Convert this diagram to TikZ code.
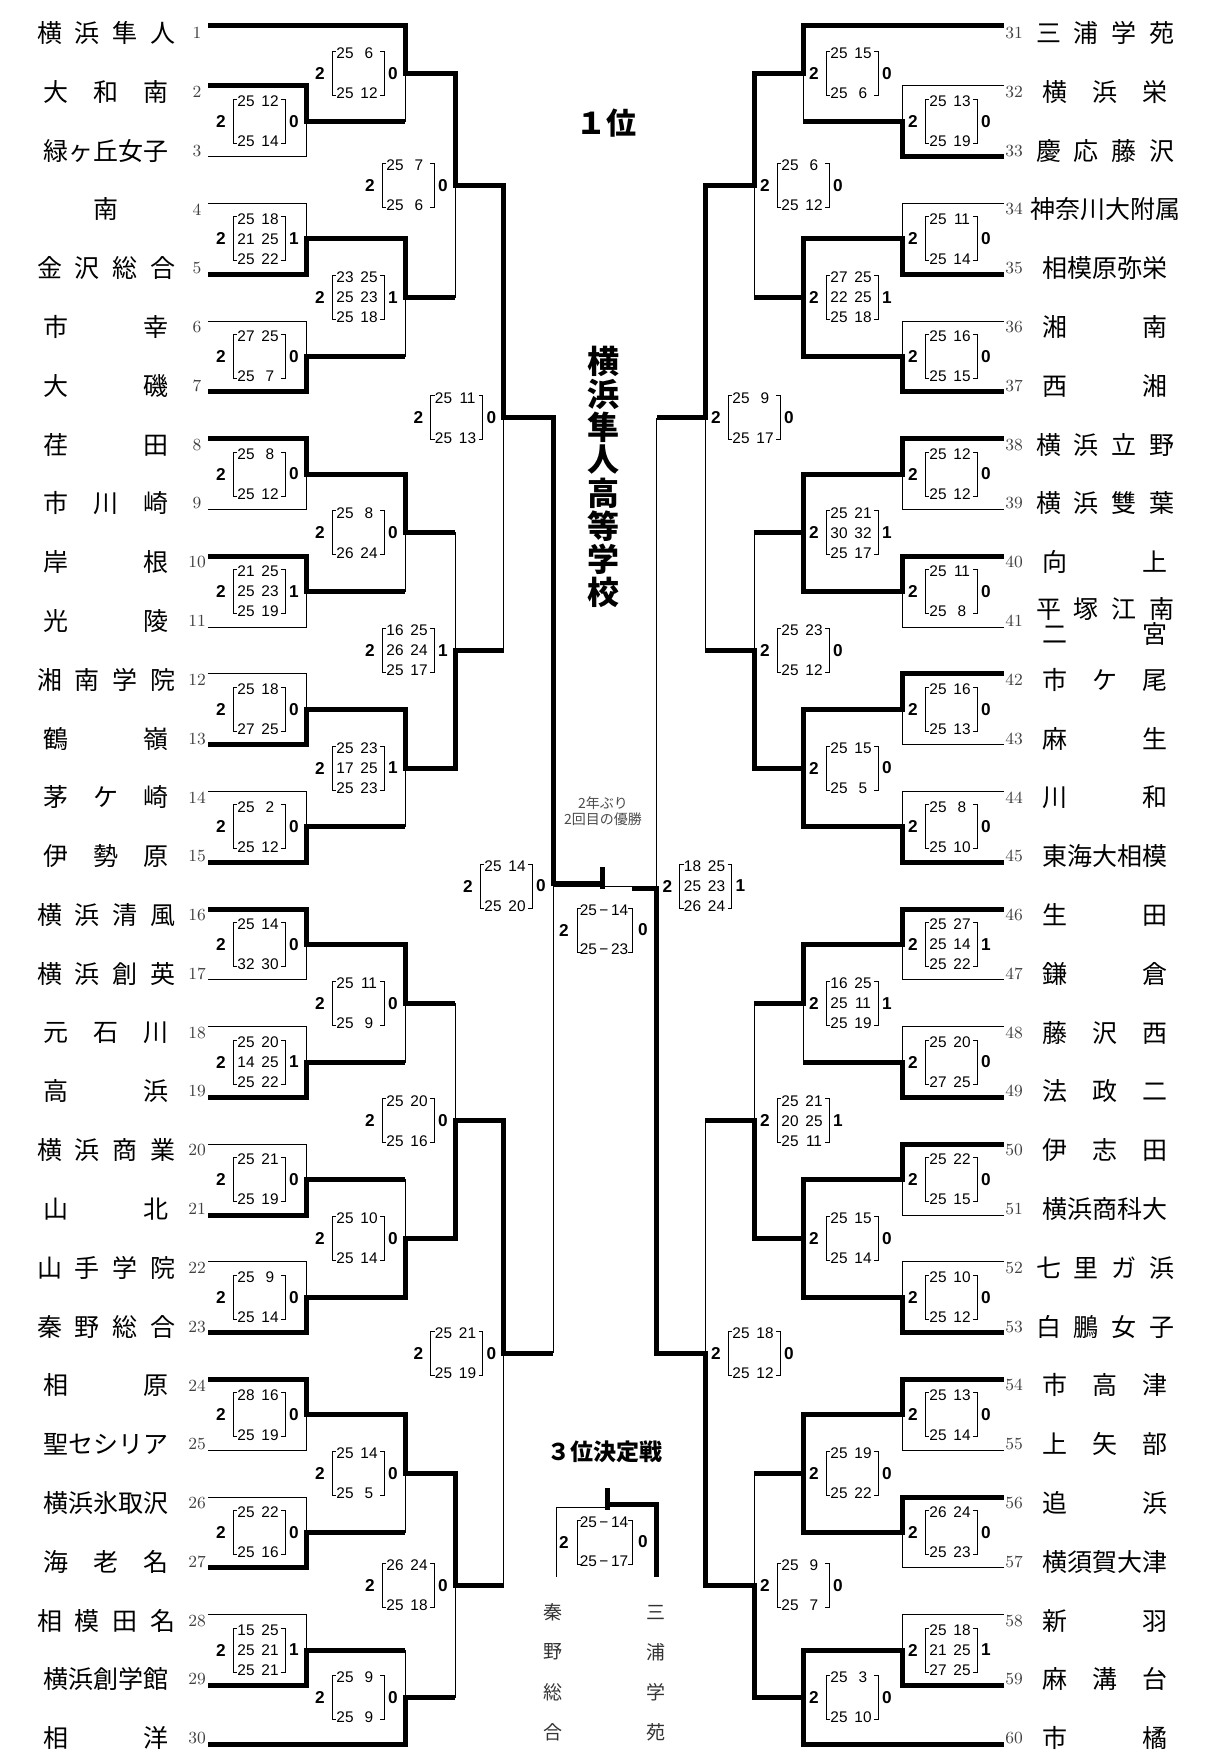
\documentclass[tikz,border=0pt]{standalone}
\usepackage{fontspec}
\newfontfamily\jp{Noto Sans CJK JP}
\newfontfamily\sans{Liberation Sans}
\usetikzlibrary{calc}

\tikzset{
  won/.style={line width=2.5pt},
  lost/.style={line width=0.5pt},
  brk/.style={line width=0.45pt},
  team/.style={inner sep=0pt, font=\jp\fontsize{12.5}{14}\selectfont},
  seed/.style={inner sep=0pt, text=black!75, font=\fontsize{8.5}{10}\selectfont},
  cnt/.style={inner sep=0pt, font=\sans\bfseries\fontsize{8.6}{10}\selectfont},
  pts/.style={inner sep=0pt, font=\sans\fontsize{7.7}{9}\selectfont},
  head/.style={inner sep=0pt, font=\jp\bfseries\fontsize{15}{18}\selectfont},
  champ/.style={inner sep=0pt, font=\jp\bfseries\fontsize{16}{18}\selectfont},
  note/.style={inner sep=0pt, text=black!70, font=\jp\fontsize{7}{8}\selectfont},
  third/.style={inner sep=0pt, text=black!80, font=\jp\fontsize{9.5}{11}\selectfont},
}

% one match: upper entrant, lower entrant, name, next column, upper style, lower style
\newcommand\bout[6]{%
  \coordinate (#3v) at ($(#1)!.5!(#2)$);
  \draw[#5,line cap=rect] (#1) -- (#3v);
  \draw[#6,line cap=rect] (#2) -- (#3v);
  \coordinate (#3) at (#3v -| #4);
  \draw[won] (#3v) -- (#3);
}
% set scores beside a match: centre, shift, sets lost, rows
\newcommand\score[4]{%
  \node[cnt] (#1a) at ($(#1)+(#2-85,0)$) {2};
  \node[cnt] (#1b) at ($(#1)+(#2-12,0)$) {#3};
  \draw[brk] ($(#1)+(#2-69,-22)$) -- ++(-4,0) -- ++(0,44) -- ++(4,0);
  \draw[brk] ($(#1)+(#2-25,-22)$) -- ++(4,0) -- ++(0,44) -- ++(-4,0);
  \foreach \sa/\sb [count=\k] in {#4}{
    \node[pts] (#1p\k) at ($(#1)+(#2-60,{-20+(\k-1)*40/(#3+1)})$) {\sa};
    \node[pts] (#1q\k) at ($(#1)+(#2-36,{-20+(\k-1)*40/(#3+1)})$) {\sb};
  }
}
% scores of the final and the third place match
\newcommand\dscore[4]{%
  \node[cnt] (#1a) at ($(#1)+(-40,0)$) {2};
  \node[cnt] (#1b) at ($(#1)+(39,0)$) {#2};
  \draw[brk] ($(#1)+(-23,-22)$) -- ++(-4,0) -- ++(0,44) -- ++(4,0);
  \draw[brk] ($(#1)+(24,-22)$) -- ++(4,0) -- ++(0,44) -- ++(-4,0);
  \node[pts] (#1p) at ($(#1)+(0,-19.5)$) {#3};
  \node[pts] (#1q) at ($(#1)+(0,19.5)$) {#4};
}

\begin{document}
\begin{tikzpicture}[x=0.5pt,y=-0.5pt]
\fill[white] (0,0) rectangle (1208,1761);
\useasboundingbox (0,0) rectangle (1208,1761);

% columns
\coordinate (cL2) at (405,0);  \coordinate (cL3) at (455,0);
\coordinate (cL4) at (503.5,0); \coordinate (cL5) at (553,0);
\coordinate (cR2) at (803,0);  \coordinate (cR3) at (754,0);
\coordinate (cR4) at (705,0);  \coordinate (cR5) at (656.5,0);

% left teams
\foreach \w/\nm [count=\i] in {69/横 浜 隼 人,
  62.5/大 和 南,
  62.5/緑ヶ丘女子,
  62.5/\hfill 南\hfill,
  69/金 沢 総 合,
  62.5/市 幸,
  62.5/大 磯,
  62.5/荏 田,
  62.5/市 川 崎,
  62.5/岸 根,
  62.5/光 陵,
  69/湘 南 学 院,
  62.5/鶴 嶺,
  62.5/茅 ケ 崎,
  62.5/伊 勢 原,
  69/横 浜 清 風,
  69/横 浜 創 英,
  62.5/元 石 川,
  62.5/高 浜,
  69/横 浜 商 業,
  62.5/山 北,
  69/山 手 学 院,
  69/秦 野 総 合,
  62.5/相 原,
  62.5/聖セシリア,
  62.5/横浜氷取沢,
  62.5/海 老 名,
  69/相 模 田 名,
  62.5/横浜創学館,
  62.5/相 洋}{
  \node[seed] (n\i) at (197,{33+58.8*(\i-1)}) {\i};
  \node[team] (s\i) at (106,{33+58.8*(\i-1)}) {\makebox[\w pt][s]{\nm}};
}

% right teams
\foreach \w/\nm [count=\i from 31] in {69/三 浦 学 苑,
  62.5/横 浜 栄,
  69/慶 応 藤 沢,
  75/神奈川大附属,
  62.5/相模原弥栄,
  62.5/湘 南,
  62.5/西 湘,
  69/横 浜 立 野,
  69/横 浜 雙 葉,
  62.5/向 上,
  69/平 塚 江 南,
  62.5/市 ケ 尾,
  62.5/麻 生,
  62.5/川 和,
  62.5/東海大相模,
  62.5/生 田,
  62.5/鎌 倉,
  62.5/藤 沢 西,
  62.5/法 政 二,
  62.5/伊 志 田,
  62.5/横浜商科大,
  69/七 里 ガ 浜,
  69/白 鵬 女 子,
  62.5/市 高 津,
  62.5/上 矢 部,
  62.5/追 浜,
  62.5/横須賀大津,
  62.5/新 羽,
  62.5/麻 溝 台,
  62.5/市 橘}{
  \node[seed] (n\i) at (1014,{33+58.8*(\i-31)}) {\i};
  \ifnum\i=41\relax\else
    \node[team] (s\i) at (1105,{33+58.8*(\i-31)}) {\makebox[\w pt][s]{\nm}};
  \fi
}
\node[team] (s41) at (1105,608.5) {\makebox[69pt][s]{平 塚 江 南}};
\node[team] (s41b) at (1105,633.5) {\makebox[62.5pt][s]{二 宮}};

% team lines
\foreach \i/\st in {2/won,3/lost,4/lost,5/won,6/lost,7/won,8/won,9/lost,10/won,11/lost,
  12/lost,13/won,14/lost,15/won,16/won,17/lost,18/lost,19/won,20/lost,21/won,22/lost,
  23/won,24/won,25/lost,26/lost,27/won,28/lost,29/won}{
  \pgfmathsetmacro\yy{33+58.8*(\i-1)+(isodd(\i)?6:-6)}
  \coordinate (e\i) at (208,\yy);
  \coordinate (t\i) at (306,\yy);
  \draw[\st] (e\i) -- (t\i);
}
\foreach \i/\st in {32/lost,33/won,34/lost,35/won,36/lost,37/won,38/won,39/lost,40/won,
  41/lost,42/won,43/lost,44/lost,45/won,46/won,47/lost,48/lost,49/won,50/won,51/lost,
  52/lost,53/won,54/won,55/lost,56/won,57/lost,58/lost,59/won}{
  \pgfmathsetmacro\yy{33+58.8*(\i-31)+(isodd(\i)?6:-6)}
  \coordinate (e\i) at (1004,\yy);
  \coordinate (t\i) at (902,\yy);
  \draw[\st] (e\i) -- (t\i);
}
\coordinate (e1) at (208,25);      \coordinate (t1) at (405,25);
\coordinate (e30) at (208,1744.2); \coordinate (t30) at (405,1744.2);
\coordinate (e31) at (1004,25);    \coordinate (t31) at (803,25);
\coordinate (e60) at (1004,1744.2);\coordinate (t60) at (803,1744.2);
\draw[won] (e1) -- (t1);
\draw[won] (e30) -- (t30);
\draw[won] (e31) -- (t31);
\draw[won] (e60) -- (t60);

% left half
\bout{t2}{t3}{w23}{cL2}{won}{lost}
\bout{t4}{t5}{w45}{cL2}{lost}{won}
\bout{t6}{t7}{w67}{cL2}{lost}{won}
\bout{t8}{t9}{w89}{cL2}{won}{lost}
\bout{t10}{t11}{w1011}{cL2}{won}{lost}
\bout{t12}{t13}{w1213}{cL2}{lost}{won}
\bout{t14}{t15}{w1415}{cL2}{lost}{won}
\bout{t16}{t17}{w1617}{cL2}{won}{lost}
\bout{t18}{t19}{w1819}{cL2}{lost}{won}
\bout{t20}{t21}{w2021}{cL2}{lost}{won}
\bout{t22}{t23}{w2223}{cL2}{lost}{won}
\bout{t24}{t25}{w2425}{cL2}{won}{lost}
\bout{t26}{t27}{w2627}{cL2}{lost}{won}
\bout{t28}{t29}{w2829}{cL2}{lost}{won}
\bout{t1}{w23}{w13}{cL3}{won}{lost}
\bout{w45}{w67}{w47}{cL3}{won}{lost}
\bout{w89}{w1011}{w811}{cL3}{won}{lost}
\bout{w1213}{w1415}{w1215}{cL3}{won}{lost}
\bout{w1617}{w1819}{w1619}{cL3}{won}{lost}
\bout{w2021}{w2223}{w2023}{cL3}{lost}{won}
\bout{w2425}{w2627}{w2427}{cL3}{won}{lost}
\bout{w2829}{t30}{w2830}{cL3}{lost}{won}
\bout{w13}{w47}{w17}{cL4}{won}{lost}
\bout{w811}{w1215}{w815}{cL4}{lost}{won}
\bout{w1619}{w2023}{w1623}{cL4}{lost}{won}
\bout{w2427}{w2830}{w2430}{cL4}{won}{lost}
\bout{w17}{w815}{w115}{cL5}{won}{lost}
\bout{w1623}{w2430}{w1630}{cL5}{won}{lost}

% right half
\bout{t32}{t33}{w3233}{cR2}{lost}{won}
\bout{t34}{t35}{w3435}{cR2}{lost}{won}
\bout{t36}{t37}{w3637}{cR2}{lost}{won}
\bout{t38}{t39}{w3839}{cR2}{won}{lost}
\bout{t40}{t41}{w4041}{cR2}{won}{lost}
\bout{t42}{t43}{w4243}{cR2}{won}{lost}
\bout{t44}{t45}{w4445}{cR2}{lost}{won}
\bout{t46}{t47}{w4647}{cR2}{won}{lost}
\bout{t48}{t49}{w4849}{cR2}{lost}{won}
\bout{t50}{t51}{w5051}{cR2}{won}{lost}
\bout{t52}{t53}{w5253}{cR2}{lost}{won}
\bout{t54}{t55}{w5455}{cR2}{won}{lost}
\bout{t56}{t57}{w5657}{cR2}{won}{lost}
\bout{t58}{t59}{w5859}{cR2}{lost}{won}
\bout{t31}{w3233}{w3133}{cR3}{won}{lost}
\bout{w3435}{w3637}{w3437}{cR3}{won}{won}
\bout{w3839}{w4041}{w3841}{cR3}{won}{won}
\bout{w4243}{w4445}{w4245}{cR3}{won}{won}
\bout{w4647}{w4849}{w4649}{cR3}{won}{lost}
\bout{w5051}{w5253}{w5053}{cR3}{won}{won}
\bout{w5455}{w5657}{w5457}{cR3}{won}{won}
\bout{w5859}{t60}{w5860}{cR3}{won}{won}
\bout{w3133}{w3437}{w3137}{cR4}{won}{lost}
\bout{w3841}{w4245}{w3845}{cR4}{lost}{won}
\bout{w4649}{w5053}{w4653}{cR4}{lost}{won}
\bout{w5457}{w5860}{w5460}{cR4}{lost}{won}
\bout{w3137}{w3845}{w3145}{cR5}{won}{lost}
\bout{w4653}{w5460}{w4660}{cR5}{lost}{won}

% semifinals and final
\coordinate (sLv) at (553,886);     \coordinate (sRv) at (656.5,886);
\coordinate (fL) at (553,883.5);    \coordinate (fC) at (602,883.5);
\coordinate (fB) at (602,886);      \coordinate (fT) at (602,869.5);
\coordinate (fR) at (634.5,888.5);  \coordinate (fS) at (656.5,888.5);
\draw[won,line cap=rect] (w115) -- (fL) -- (fC);
\draw[won,line cap=rect] (fB) -- (fT);
\draw[lost] (sLv) -- (sRv);
\draw[lost] (sLv) -- (w1630);
\draw[lost] (w3145) -- (sRv);
\draw[won,line cap=rect] (fR) -- (fS) -- (w4660);

% third place match
\coordinate (qL) at (556,1577);    \coordinate (qLt) at (556,1507);
\coordinate (qC) at (607,1507);    \coordinate (qT) at (607,1490.5);
\coordinate (qCt) at (607,1504.5); \coordinate (qRt) at (656,1504.5);
\coordinate (qR) at (656,1574.5);
\draw[lost] (qL) -- (qLt) -- (qC);
\draw[won,line cap=rect] (qC) -- (qT);
\draw[won,line cap=rect] (qCt) -- (qRt) -- (qR);

% scores, left
\score{w23v}{0}{0}{25/12,25/14}
\score{w45v}{0}{1}{25/18,21/25,25/22}
\score{w67v}{0}{0}{27/25,25/7}
\score{w89v}{0}{0}{25/8,25/12}
\score{w1011v}{0}{1}{21/25,25/23,25/19}
\score{w1213v}{0}{0}{25/18,27/25}
\score{w1415v}{0}{0}{25/2,25/12}
\score{w1617v}{0}{0}{25/14,32/30}
\score{w1819v}{0}{1}{25/20,14/25,25/22}
\score{w2021v}{0}{0}{25/21,25/19}
\score{w2223v}{0}{0}{25/9,25/14}
\score{w2425v}{0}{0}{28/16,25/19}
\score{w2627v}{0}{0}{25/22,25/16}
\score{w2829v}{0}{1}{15/25,25/21,25/21}
\score{w13v}{0}{0}{25/6,25/12}
\score{w47v}{0}{1}{23/25,25/23,25/18}
\score{w811v}{0}{0}{25/8,26/24}
\score{w1215v}{0}{1}{25/23,17/25,25/23}
\score{w1619v}{0}{0}{25/11,25/9}
\score{w2023v}{0}{0}{25/10,25/14}
\score{w2427v}{0}{0}{25/14,25/5}
\score{w2830v}{0}{0}{25/9,25/9}
\score{w17v}{0}{0}{25/7,25/6}
\score{w815v}{0}{1}{16/25,26/24,25/17}
\score{w1623v}{0}{0}{25/20,25/16}
\score{w2430v}{0}{0}{26/24,25/18}
\score{w115v}{0}{0}{25/11,25/13}
\score{w1630v}{0}{0}{25/21,25/19}
\score{sLv}{0}{0}{25/14,25/20}

% scores, right
\score{w3233v}{96}{0}{25/13,25/19}
\score{w3435v}{96}{0}{25/11,25/14}
\score{w3637v}{96}{0}{25/16,25/15}
\score{w3839v}{96}{0}{25/12,25/12}
\score{w4041v}{96}{0}{25/11,25/8}
\score{w4243v}{96}{0}{25/16,25/13}
\score{w4445v}{96}{0}{25/8,25/10}
\score{w4647v}{96}{1}{25/27,25/14,25/22}
\score{w4849v}{96}{0}{25/20,27/25}
\score{w5051v}{96}{0}{25/22,25/15}
\score{w5253v}{96}{0}{25/10,25/12}
\score{w5455v}{96}{0}{25/13,25/14}
\score{w5657v}{96}{0}{26/24,25/23}
\score{w5859v}{96}{1}{25/18,21/25,27/25}
\score{w3133v}{96}{0}{25/15,25/6}
\score{w3437v}{96}{1}{27/25,22/25,25/18}
\score{w3841v}{96}{1}{25/21,30/32,25/17}
\score{w4245v}{96}{0}{25/15,25/5}
\score{w4649v}{96}{1}{16/25,25/11,25/19}
\score{w5053v}{96}{0}{25/15,25/14}
\score{w5457v}{96}{0}{25/19,25/22}
\score{w5860v}{96}{0}{25/3,25/10}
\score{w3137v}{96}{0}{25/6,25/12}
\score{w3845v}{96}{0}{25/23,25/12}
\score{w4653v}{96}{1}{25/21,20/25,25/11}
\score{w5460v}{96}{0}{25/9,25/7}
\score{w3145v}{96}{0}{25/9,25/17}
\score{w4660v}{96}{0}{25/18,25/12}
\score{sRv}{96}{1}{18/25,25/23,26/24}

\coordinate (fpv) at (604,930);
\dscore{fpv}{0}{25\,−\,14}{25\,−\,23}
\coordinate (tpv) at (604,1542);
\dscore{tpv}{0}{25\,−\,14}{25\,−\,17}

% titles
\node[head] (first) at (606,123) {１位};
\foreach \ch [count=\k] in {横,浜,隼,人,高,等,学,校}
  \node[champ] (ch\k) at (603,{361+33*(\k-1)}) {\ch};
\node[note] (yr) at (603,803) {2年ぶり};
\node[note] (nth) at (603,819) {2回目の優勝};
\node[head,font=\jp\bfseries\fontsize{11.5}{14}\selectfont] (bronze) at (605,1452) {３位決定戦};
\foreach \ch [count=\k] in {秦,野,総,合}
  \node[third] (ha\k) at (553,{1612+40*(\k-1)}) {\ch};
\foreach \ch [count=\k] in {三,浦,学,苑}
  \node[third] (mi\k) at (656,{1612+40*(\k-1)}) {\ch};
\end{tikzpicture}
\end{document}
